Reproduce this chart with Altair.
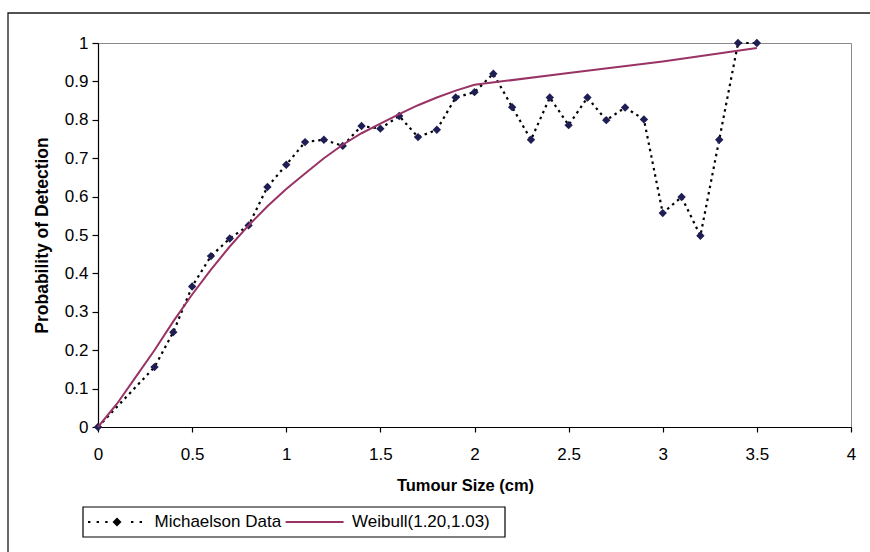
import altair as alt
import pandas as pd

# Observed detection probability by tumour size (Michaelson data)
size_cm = [0, 0.3, 0.4, 0.5, 0.6, 0.7, 0.8, 0.9, 1.0, 1.1, 1.2, 1.3, 1.4, 1.5, 1.6,
           1.7, 1.8, 1.9, 2.0, 2.1, 2.2, 2.3, 2.4, 2.5, 2.6, 2.7, 2.8, 2.9, 3.0,
           3.1, 3.2, 3.3, 3.4, 3.5]
detect_prob = [0, 0.156, 0.247, 0.366, 0.445, 0.491, 0.525, 0.625, 0.683, 0.742,
               0.748, 0.732, 0.784, 0.777, 0.810, 0.755, 0.774, 0.858, 0.872, 0.920,
               0.833, 0.748, 0.858, 0.786, 0.858, 0.799, 0.832, 0.801, 0.557, 0.599,
               0.498, 0.748, 1.0, 1.0]

# Fitted Weibull curve
fit_size = [0, 0.1, 0.2, 0.3, 0.4, 0.5, 0.6, 0.7, 0.8, 0.9, 1.0, 1.1, 1.2, 1.3,
            1.4, 1.5, 1.6, 1.7, 1.8, 1.9, 2.0, 2.5, 3.0, 3.5]
fit_prob = [0, 0.06, 0.13, 0.20, 0.275, 0.345, 0.41, 0.47, 0.525, 0.575, 0.62,
            0.66, 0.70, 0.735, 0.765, 0.79, 0.815, 0.838, 0.858, 0.876, 0.891,
            0.922, 0.952, 0.987]

series_names = ["Michaelson Data", "Weibull(1.20,1.03)"]
obs_color = "#000000"
marker_color = "#1e1e55"
fit_color = "#993366"

x_ticks = [0, 0.5, 1, 1.5, 2, 2.5, 3, 3.5, 4]
y_ticks = [0, 0.1, 0.2, 0.3, 0.4, 0.5, 0.6, 0.7, 0.8, 0.9, 1]

FONT = "Liberation Sans"

obs = pd.DataFrame({"size": size_cm, "prob": detect_prob, "series": series_names[0]})
fit = pd.DataFrame({"size": fit_size, "prob": fit_prob, "series": series_names[1]})

x_enc = alt.X(
    "size:Q",
    scale=alt.Scale(domain=[0, 4], nice=False),
    axis=alt.Axis(values=x_ticks, format="~g", title="Tumour Size (cm)",
                  tickSize=5, labelPadding=14, titlePadding=15, titleX=367,
                  titleFontSize=16.5, labelFlush=False),
)
y_enc = alt.Y(
    "prob:Q",
    scale=alt.Scale(domain=[0, 1], nice=False),
    axis=alt.Axis(values=y_ticks, format="~g", title="Probability of Detection",
                  tickSize=6, labelPadding=4, titlePadding=13,
                  titleFontSize=17.5),
)

# Legend glyphs (symbol size 100 -> one path unit is 5 px).
# Observed series: a row of square dots with a diamond in the middle.
UNIT = 5.0
dot_w, dot_gap, half_len = 2.4, 6.2, 29.0
dot_parts = []
pos = -half_len
while pos + dot_w <= half_len:
    if pos + dot_w < -5.5 or pos > 5.5:
        dot_parts.append(
            f"M{pos / UNIT:.3f},-0.22h{dot_w / UNIT:.3f}v0.44h{-dot_w / UNIT:.3f}Z"
        )
    pos += dot_w + dot_gap
marker_path = "".join(dot_parts) + "M0,-0.9L0.9,0L0,0.9L-0.9,0Z"
# Fitted series: a plain solid stroke.
line_path = f"M{-half_len / UNIT:.2f},0H{half_len / UNIT:.2f}"

legend_common = dict(
    title=None,
    orient="none",
    direction="horizontal",
    padding=0,
    labelFont=FONT,
    labelFontSize=17,
    labelColor="#000000",
    labelLimit=400,
    symbolSize=100,
    symbolStrokeWidth=2,
    symbolOffset=20.5,
    labelOffset=29,
    legendY=470.5,
)

obs_legend = alt.Legend(
    legendX=-10,
    symbolFillColor=obs_color,
    **legend_common,
)
fit_legend = alt.Legend(
    legendX=187.6,
    symbolType=line_path,
    **legend_common,
)

# Outer chart frame and legend box
frame = alt.Chart(pd.DataFrame({"k": [0]})).mark_rect(
    fill="transparent", stroke="#1a1a1a", strokeWidth=1.3
).encode(
    x=alt.value(-90), x2=alt.value(800), y=alt.value(-30), y2=alt.value(530)
)
legend_box = alt.Chart(pd.DataFrame({"k": [0]})).mark_rect(
    fill="#ffffff", stroke="#000000", strokeWidth=1.2
).encode(
    x=alt.value(-15), x2=alt.value(407), y=alt.value(464), y2=alt.value(494)
)

obs_line = alt.Chart(obs).mark_line(
    color=obs_color, strokeWidth=2.2, strokeDash=[2.5, 4], strokeCap="butt"
).encode(x=x_enc, y=y_enc)

obs_points = alt.Chart(obs).mark_point(
    shape="diamond", filled=True, size=70, color=marker_color, opacity=1
).encode(x=x_enc, y=y_enc)

# Carries the legend entry for the observed series; draws no marks
obs_key = alt.Chart(obs).transform_filter("false").mark_point(
    filled=True, fill=obs_color, opacity=1
).encode(
    x=x_enc, y=y_enc,
    shape=alt.Shape("series:N",
                    scale=alt.Scale(domain=[series_names[0]], range=[marker_path]),
                    legend=obs_legend),
)

fit_line = alt.Chart(fit).mark_line(strokeWidth=2).encode(
    x=x_enc, y=y_enc,
    color=alt.Color("series:N",
                    scale=alt.Scale(domain=[series_names[1]], range=[fit_color]),
                    legend=fit_legend),
)

chart = alt.layer(frame, legend_box, obs_line, obs_points, obs_key, fit_line).properties(
    width=753,
    height=384,
    autosize=alt.AutoSizeParams(type="none"),
    padding={"left": 98, "top": 43, "right": 19, "bottom": 125},
    background="#ffffff",
).resolve_scale(
    color="independent", shape="independent"
).configure_view(
    stroke="#8a8a8a", strokeWidth=1
).configure_axis(
    domainColor="#000000",
    domainWidth=1.2,
    tickColor="#000000",
    tickWidth=1.2,
    grid=False,
    labelFont=FONT,
    labelFontSize=17,
    labelColor="#000000",
    titleFont=FONT,
    titleFontWeight="bold",
    titleColor="#000000",
)

chart.save("out.html", embed_options={"renderer": "svg", "actions": False})
